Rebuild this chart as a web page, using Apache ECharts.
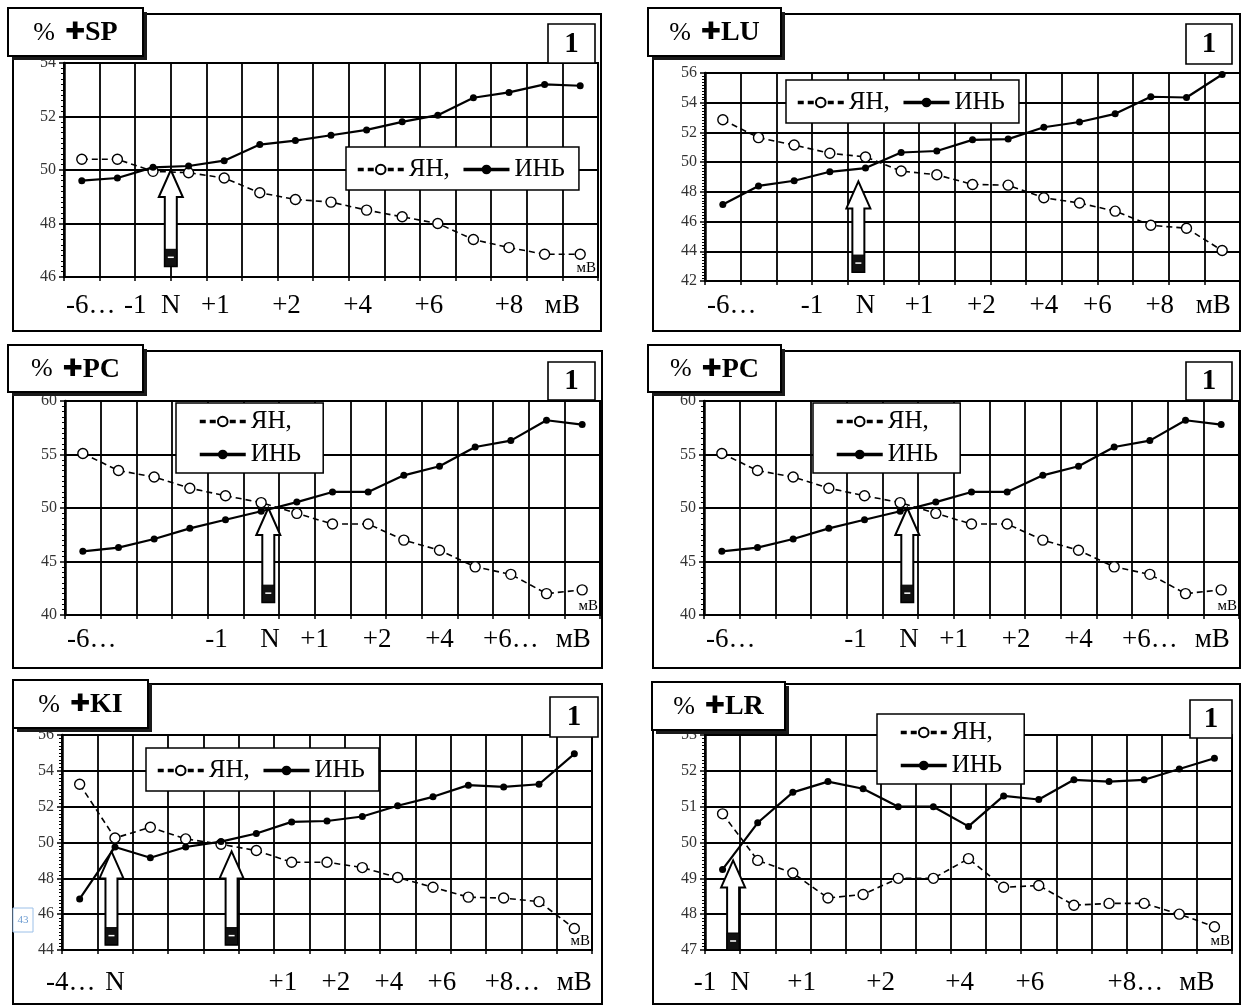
<!DOCTYPE html>
<html><head><meta charset="utf-8">
<script src="https://cdn.jsdelivr.net/npm/echarts@6/dist/echarts.min.js"></script>
<style>html,body{margin:0;padding:0;background:#fff}#c{width:1242px;height:1008px}</style>
</head><body><div id="c"></div><script>
// ---------- data ----------
const steps = ['1','2','3','4','5','6','7','8','9','10','11','12','13','14','15'];
const seriesNames = ['ЯН,', 'ИНЬ'];

const spYang = [50.4, 50.4, 49.95, 49.9, 49.7, 49.15, 48.9, 48.8, 48.5, 48.25, 48.0, 47.4, 47.1, 46.85, 46.85];
const spYin  = [49.6, 49.7, 50.1, 50.15, 50.35, 50.95, 51.1, 51.3, 51.5, 51.8, 52.05, 52.7, 52.9, 53.2, 53.15];
const luYang = [52.85, 51.65, 51.15, 50.6, 50.35, 49.4, 49.15, 48.5, 48.45, 47.6, 47.25, 46.7, 45.75, 45.55, 44.05];
const luYin  = [47.15, 48.4, 48.75, 49.35, 49.6, 50.65, 50.75, 51.5, 51.55, 52.35, 52.7, 53.25, 54.4, 54.35, 55.9];
const pcYang = [55.1, 53.5, 52.9, 51.85, 51.15, 50.5, 49.5, 48.5, 48.5, 47.0, 46.05, 44.5, 43.8, 42.0, 42.35];
const pcYin  = [45.95, 46.3, 47.1, 48.1, 48.9, 49.7, 50.55, 51.5, 51.5, 53.05, 53.9, 55.7, 56.3, 58.2, 57.8];
const kiYang = [53.25, 50.25, 50.85, 50.2, 49.9, 49.55, 48.9, 48.9, 48.6, 48.05, 47.5, 46.95, 46.9, 46.7, 45.2];
const kiYin  = [46.85, 49.75, 49.15, 49.75, 50.05, 50.5, 51.15, 51.2, 51.45, 52.05, 52.55, 53.2, 53.1, 53.25, 54.95];
const lrYang = [50.8, 49.5, 49.15, 48.45, 48.55, 49.0, 49.0, 49.55, 48.75, 48.8, 48.25, 48.3, 48.3, 48.0, 47.65];
const lrYin  = [49.25, 50.55, 51.4, 51.7, 51.5, 51.0, 51.0, 50.45, 51.3, 51.2, 51.75, 51.7, 51.75, 52.05, 52.35];

// x tick labels and where they sit (in category units, first category = 0)
const spTicks = ['-6…','-1','N','+1','+2','+4','+6','+8','мВ'];
const spTickAt = [0.25, 1.5, 2.5, 3.75, 5.75, 7.75, 9.75, 12, 13.5];
const luTicks = ['-6…','-1','N','+1','+2','+4','+6','+8','мВ'];
const luTickAt = [0.25, 2.5, 4, 5.5, 7.25, 9, 10.5, 12.25, 13.75];
const pcTicks = ['-6…','-1','N','+1','+2','+4','+6…','мВ'];
const pcTickAt = [0.25, 3.75, 5.25, 6.5, 8.25, 10, 12, 13.75];
const kiTicks = ['-4…','N','+1','+2','+4','+6','+8…','мВ'];
const kiTickAt = [-0.25, 1, 5.75, 7.25, 8.75, 10.25, 12.25, 14];
const lrTicks = ['-1','N','+1','+2','+4','+6','+8…','мВ'];
const lrTickAt = [-0.5, 0.5, 2.25, 4.5, 6.75, 8.75, 11.75, 13.5];

// arrows: [category position, tip value, bottom value]
const spArrows = [[2.5, 50.0, 46.4]];
const luArrows = [[3.8, 48.7, 42.6]];
const pcArrows = [[5.2, 50.0, 41.2]];
const kiArrows = [[0.9, 49.5, 44.3], [4.3, 49.5, 44.3]];
const lrArrows = [[0.3, 49.5, 47.0]];

// ---------- layout ----------
const panels = [
  {key:'SP', yang:spYang, yin:spYin, yMin:46, yMax:54, yStep:2, ticks:spTicks, tickAt:spTickAt, arrows:spArrows, mv:true,
   grid:[64,63,534,214], frame:[13,14,588,317], title:[8,8,135,48], one:[548,24,47,39], lg:{left:346, top:147, orient:'horizontal'}, lm:15},
  {key:'LU', yang:luYang, yin:luYin, yMin:42, yMax:56, yStep:2, ticks:luTicks, tickAt:luTickAt, arrows:luArrows, mv:false,
   grid:[705,73,535,208], frame:[653,14,587,317], title:[648,8,133,48], one:[1186,24,46,40], lg:{left:786, top:80, orient:'horizontal'}, lm:11},
  {key:'PC', yang:pcYang, yin:pcYin, yMin:40, yMax:60, yStep:5, ticks:pcTicks, tickAt:pcTickAt, arrows:pcArrows, mv:true,
   grid:[65,401,535,214], frame:[13,351,589,317], title:[8,345,135,47], one:[548,362,47,38], lg:{left:176, top:403, orient:'vertical'}, lm:11},
  {key:'PC', yang:pcYang, yin:pcYin, yMin:40, yMax:60, yStep:5, ticks:pcTicks, tickAt:pcTickAt, arrows:pcArrows, mv:true,
   grid:[704,401,535,214], frame:[653,351,587,317], title:[648,345,133,47], one:[1186,362,46,38], lg:{left:813, top:403, orient:'vertical'}, lm:11},
  {key:'KI', yang:kiYang, yin:kiYin, yMin:44, yMax:56, yStep:2, ticks:kiTicks, tickAt:kiTickAt, arrows:kiArrows, mv:true,
   grid:[62,735,530,215], frame:[13,684,589,320], title:[13,680,135,48], one:[550,697,48,40], lg:{left:146, top:748, orient:'horizontal'}, lm:19},
  {key:'LR', yang:lrYang, yin:lrYin, yMin:47, yMax:53, yStep:1, ticks:lrTicks, tickAt:lrTickAt, arrows:lrArrows, mv:true,
   grid:[705,735,527,215], frame:[653,684,587,320], title:[652,682,133,48], one:[1190,700,42,38], lg:{left:877, top:714, orient:'vertical'}, lm:19}
];
const N = panels.length;
const Q = 4; // label axis sub-steps per category

function tickFormatter(p) {
  const map = {};
  p.tickAt.forEach((c, i) => { map[Math.round((c + 0.5) * Q)] = p.ticks[i]; });
  return v => (map[Math.round(v)] !== undefined ? map[Math.round(v)] : '');
}

const chart = echarts.init(document.getElementById('c'), null, {renderer:'canvas'});
const serif = 'Liberation Serif';

const option = {
  animation: false,
  backgroundColor: '#fff',
  textStyle: {fontFamily: serif},
  grid: panels.map(p => ({left:p.grid[0], top:p.grid[1], width:p.grid[2], height:p.grid[3],
    show:true, borderColor:'#000', borderWidth:2, backgroundColor:'transparent', containLabel:false, outerBoundsMode:'none'})),
  xAxis: [
    ...panels.map((p, k) => ({type:'category', gridIndex:k, data:steps, boundaryGap:true, position:'bottom',
      axisLine:{show:true, onZero:false, lineStyle:{color:'#000', width:2}},
      axisTick:{show:true, length:4, lineStyle:{color:'#000', width:1.5}},
      axisLabel:{show:false},
      splitLine:{show:true, interval:0, lineStyle:{color:'#000', width:1.8}}})),
    ...panels.map((p, k) => ({type:'value', gridIndex:k, min:0, max:steps.length * Q, interval:1, position:'bottom',
      axisLine:{show:false, onZero:false}, axisTick:{show:false}, splitLine:{show:false},
      axisLabel:{show:true, margin:p.lm, formatter:tickFormatter(p), fontFamily:serif, fontSize:27, color:'#000',
        showMinLabel:true, showMaxLabel:true}}))
  ],
  yAxis: panels.map((p, k) => ({type:'value', gridIndex:k, min:p.yMin, max:p.yMax, interval:p.yStep,
    axisLine:{show:true, onZero:false, lineStyle:{color:'#000', width:2.5}},
    axisTick:{show:true, length:5, lineStyle:{color:'#000', width:1.5}},
    minorTick:{show:true, splitNumber:10, length:3, lineStyle:{color:'#000', width:1}},
    axisLabel:{fontFamily:serif, fontSize:16, color:'#333', margin:8},
    splitLine:{show:true, lineStyle:{color:'#000', width:2.2}}})),
  legend: panels.map(p => ({data:seriesNames, left:p.lg.left, top:p.lg.top, orient:p.lg.orient,
    backgroundColor:'#fff', borderColor:'#000', borderWidth:1.5, padding: p.lg.orient === 'vertical' ? [6, 22, 6, 22] : [10, 14, 8, 10],
    itemGap: p.lg.orient === 'vertical' ? 8 : 12, itemWidth:46, itemHeight:12, selectedMode:false, z:20,
    lineStyle:{width:3.5},
    textStyle:{fontFamily:serif, fontSize:25, color:'#000'}})),
  series: panels.flatMap((p, k) => [
    {name:seriesNames[0], type:'line', xAxisIndex:k, yAxisIndex:k, data:p.yang, symbol:'circle', symbolSize:10, showAllSymbol:true,
     itemStyle:{color:'#fff', borderColor:'#000', borderWidth:1.4},
     lineStyle:{color:'#000', width:1.6, type:[6, 4]}, z:3},
    {name:seriesNames[1], type:'line', xAxisIndex:k, yAxisIndex:k, data:p.yin, symbol:'circle', symbolSize:7, showAllSymbol:true,
     itemStyle:{color:'#000'}, lineStyle:{color:'#000', width:2.2}, z:4}
  ])
};
chart.setOption(option);

// ---------- overlay graphics ----------
const g = [];
panels.forEach((p, k) => {
  const [fx, fy, fw, fh] = p.frame;
  g.push({type:'rect', shape:{x:fx, y:fy, width:fw, height:fh}, style:{fill:null, stroke:'#000', lineWidth:2}, z:1});

  const finder = {xAxisIndex: N + k, yAxisIndex: k};
  p.arrows.forEach(a => {
    const q = (a[0] + 0.5) * Q;
    const [x, yt] = chart.convertToPixel(finder, [q, a[1]]);
    const yb = chart.convertToPixel(finder, [q, a[2]])[1];
    const sw = 6, hw = 12, hh = 27;
    g.push({type:'polygon', shape:{points:[[x, yt], [x + hw, yt + hh], [x + sw, yt + hh], [x + sw, yb], [x - sw, yb], [x - sw, yt + hh], [x - hw, yt + hh]]},
      style:{fill:'#fff', stroke:'#000', lineWidth:2}, z:50});
    g.push({type:'rect', shape:{x:x - sw, y:yb - 17, width:sw * 2, height:17}, style:{fill:'#111', stroke:'#000', lineWidth:1}, z:51});
    g.push({type:'line', shape:{x1:x - sw + 3, y1:yb - 9, x2:x + sw - 3, y2:yb - 9}, style:{stroke:'#fff', lineWidth:1.5}, z:52});
  });

  if (p.mv) {
    const [rx, ry] = chart.convertToPixel(finder, [steps.length * Q, p.yMin]);
    g.push({type:'text', x:rx - 2, y:ry - 1, style:{text:'мВ', fontFamily:serif, fontSize:15, fill:'#000', align:'right', verticalAlign:'bottom'}, z:30});
  }

  const [tx, ty, tw, th] = p.title;
  g.push({type:'rect', shape:{x:tx + 4, y:ty + 4, width:tw, height:th}, style:{fill:'#1a1a1a'}, z:100});
  g.push({type:'rect', shape:{x:tx, y:ty, width:tw, height:th}, style:{fill:'#fff', stroke:'#000', lineWidth:2}, z:101});
  g.push({type:'text', x:tx + tw / 2, y:ty + th / 2 + 1, style:{text:'{p|%}{c|✚}{b|' + p.key + '}', align:'center', verticalAlign:'middle',
    rich:{p:{fontFamily:serif, fontSize:26, fill:'#000', padding:[0, 10, 0, 0]}, c:{fontFamily:'DejaVu Sans', fontSize:24, fontWeight:'bold', fill:'#000'},
          b:{fontFamily:serif, fontSize:28, fontWeight:'bold', fill:'#000'}}}, z:102});

  const [ox, oy, ow, oh] = p.one;
  g.push({type:'rect', shape:{x:ox, y:oy, width:ow, height:oh}, style:{fill:'#fff', stroke:'#000', lineWidth:1.6}, z:100});
  g.push({type:'text', x:ox + ow / 2, y:oy + oh / 2 + 1, style:{text:'1', fontFamily:serif, fontSize:29, fontWeight:'bold', fill:'#000', align:'center', verticalAlign:'middle'}, z:101});
});
// small blue marker near KI axis
g.push({type:'rect', shape:{x:13, y:908, width:20, height:24}, style:{fill:'#fff', stroke:'#9cc0e8', lineWidth:1}, z:40});
g.push({type:'text', x:23, y:920, style:{text:'43', fontFamily:serif, fontSize:11, fill:'#6b9bd1', align:'center', verticalAlign:'middle'}, z:41});

chart.setOption({graphic: {elements: g}});
</script></body></html>
